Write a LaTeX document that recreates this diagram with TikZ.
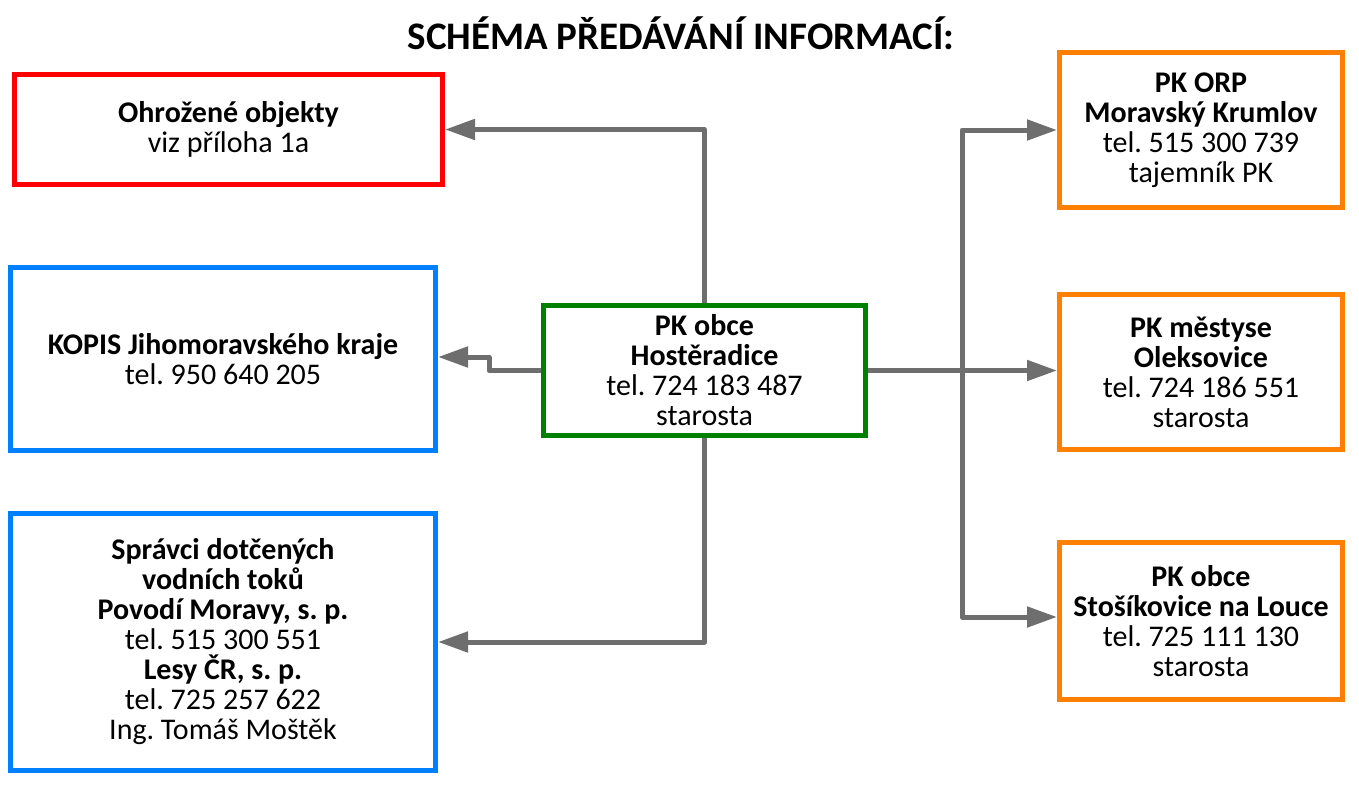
\documentclass[tikz,border=0pt]{standalone}
\usepackage{fontspec}
\setmainfont{Carlito}
\usetikzlibrary{arrows.meta}
\frenchspacing
\definecolor{cred}{RGB}{255,0,0}
\definecolor{cblue}{RGB}{0,128,255}
\definecolor{cgreen}{RGB}{0,128,0}
\definecolor{corange}{RGB}{255,128,0}
\definecolor{cgray}{RGB}{110,110,110}
\tikzset{
  box/.style={draw, line width=2.5pt, fill=white, align=center, inner sep=0pt,
    font=\fontsize{15}{15}\selectfont},
  conn/.style={draw=cgray, line width=2.5pt, line join=round,
    -{Triangle[length=15pt,width=10pt]}},
  conn2/.style={draw=cgray, line width=2.5pt, line join=round,
    {Triangle[length=15pt,width=10pt]}-{Triangle[length=15pt,width=10pt]}},
}
\begin{document}
\begin{tikzpicture}[x=0.5pt,y=-0.5pt]
\useasboundingbox (0,0) rectangle (1359,787);
\node[font=\fontsize{19.5}{21}\selectfont\bfseries] (t) at (681,33) {SCHÉMA PŘEDÁVÁNÍ INFORMACÍ:};
\node[box, draw=cred, minimum width=214pt, minimum height=55pt] (r) at (228.5,129.5)
  {\textbf{Ohrožené objekty}\\viz příloha 1a};
\node[box, draw=cblue, minimum width=212.5pt, minimum height=91.5pt] (k) at (223,359)
  {\textbf{KOPIS Jihomoravského kraje}\\tel. 950 640 205};
\node[box, draw=cblue, minimum width=212.5pt, minimum height=128.5pt] (s) at (223,642)
  {\textbf{Správci dotčených}\\\textbf{vodních toků}\\\textbf{Povodí Moravy, s. p.}\\tel. 515 300 551\\\textbf{Lesy ČR, s. p.}\\tel. 725 257 622\\Ing. Tomáš Moštěk};
\node[box, draw=cgreen, minimum width=161pt, minimum height=65pt] (c) at (704.5,370.5)
  {\textbf{PK obce}\\\textbf{Hostěradice}\\tel. 724 183 487\\starosta};
\node[box, draw=corange, minimum width=141.5pt, minimum height=77.5pt] (o1) at (1201,130)
  {\textbf{PK ORP}\\\textbf{Moravský Krumlov}\\tel. 515 300 739\\tajemník PK};
\node[box, draw=corange, minimum width=141.5pt, minimum height=77.5pt] (o2) at (1201,372)
  {\textbf{PK městyse}\\\textbf{Oleksovice}\\tel. 724 186 551\\starosta};
\node[box, draw=corange, minimum width=141.5pt, minimum height=78.5pt] (o3) at (1201,621)
  {\textbf{PK obce}\\\textbf{Stošíkovice na Louce}\\tel. 725 111 130\\starosta};
\coordinate (bb) at (962,617);
\draw[conn] (c.north) |- (r.east);
\draw[conn] (c.west) -- ++(-52,0) |- ([yshift=1pt]k.east);
\draw[conn] (c.south) |- (s.east);
\draw[conn] (c.east) -- (c.east -| o2.west);
\draw[conn2] (o1.west) -| (bb) -- (bb -| o3.west);
\end{tikzpicture}
\end{document}
